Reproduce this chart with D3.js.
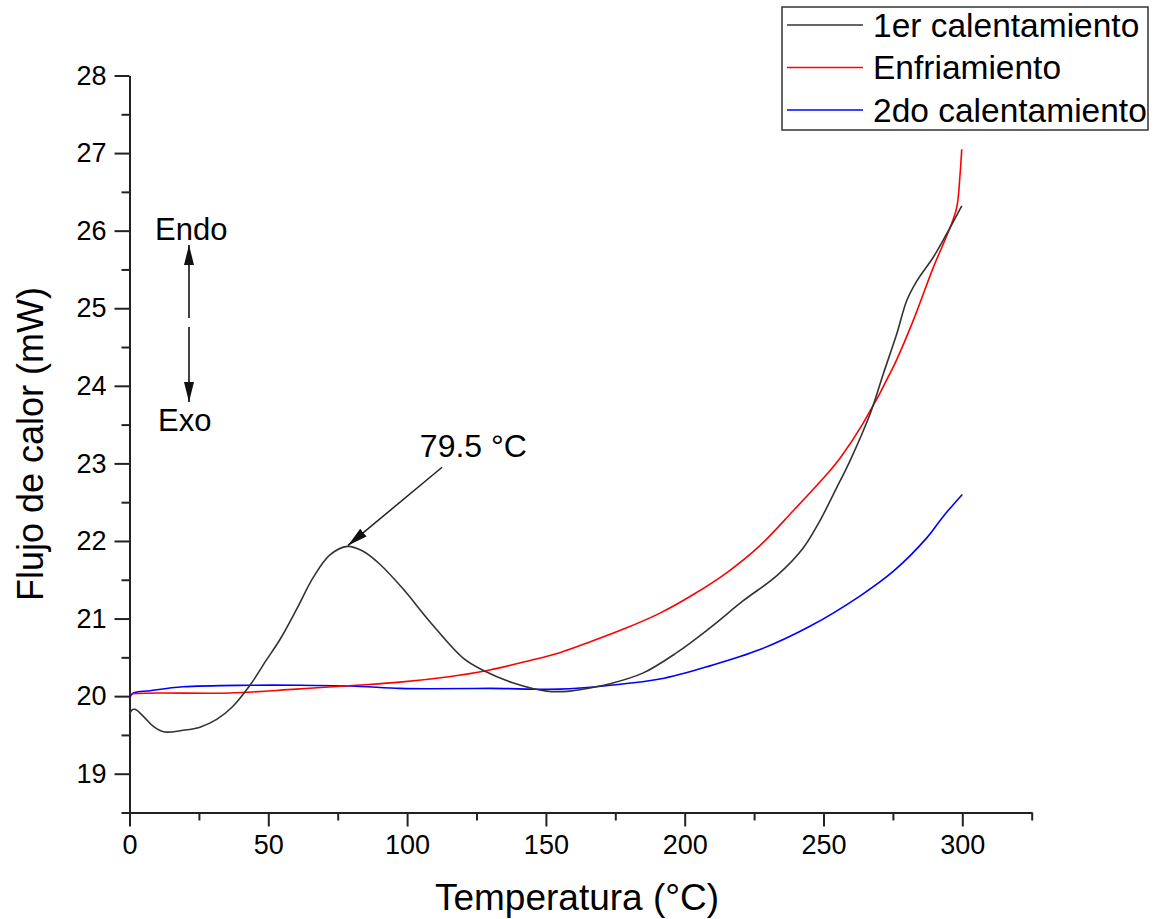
<!DOCTYPE html>
<html><head><meta charset="utf-8">
<script src="https://cdn.jsdelivr.net/npm/d3@7"></script>
<style>body{margin:0;background:#fff}svg{display:block}text{font-family:"Liberation Sans",Arial,sans-serif;fill:#000}</style>
</head><body>
<script>
// ---- data ----
const seriesNames = ["1er calentamiento", "Enfriamiento", "2do calentamiento"];
const seriesColors = ["#333333", "#ff0000", "#0000ff"];

const heat1T = [0,0.8,2,5,8.6,12.2,19.4,25.4,31.4,37,43.4,49.4,54.2,60.2,66.2,72.2,78.5,84,90.2,98.6,108.2,120.2,127.5,138.3,150.3,158.7,165,173.1,185.1,197.1,209.1,221.1,233.1,242.7,248.7,254.8,259.5,266.7,271.5,276.4,280,283.6,289.6,294.4,299.8];
const heat1V = [19.76,19.82,19.83,19.74,19.61,19.54,19.56,19.6,19.7,19.86,20.14,20.47,20.73,21.12,21.53,21.82,21.93,21.87,21.7,21.38,20.96,20.49,20.33,20.17,20.065,20.065,20.1,20.16,20.3,20.56,20.88,21.23,21.55,21.91,22.26,22.69,23.03,23.63,24.15,24.67,25.1,25.35,25.66,25.96,26.32];

const coolT = [0,10,36.2,60,81.8,97.4,115,127.5,144.3,155,166,179.1,191.1,203.1,215.1,227.1,239.1,251.2,256,264.3,275.1,282.3,289.6,295.6,298,299.2,299.8];
const coolV = [20.03,20.04,20.04,20.09,20.14,20.18,20.25,20.32,20.46,20.56,20.7,20.88,21.07,21.31,21.59,21.94,22.39,22.86,23.07,23.52,24.24,24.84,25.53,26.04,26.3,26.73,27.05];

const heat2T = [0,1.4,7.4,19.3,43.4,61.4,79.4,97.4,108,130,155,173.1,191.1,209.1,227.1,245.1,263.1,275.2,287.2,293.2,300];
const heat2V = [19.98,20.04,20.07,20.12,20.14,20.14,20.13,20.1,20.095,20.1,20.09,20.14,20.22,20.39,20.6,20.9,21.29,21.61,22.04,22.32,22.6];

const xTicks = [0,50,100,150,200,250,300];
const yTicks = [19,20,21,22,23,24,25,26,27,28];
const peakLabel = "79.5 °C";
const peakT = 79.5, peakV = 21.93;

// ---- layout ----
const W = 1158, H = 919;
const svg = d3.select("body").append("svg").attr("width", W).attr("height", H);
const x = d3.scaleLinear().domain([0, 325]).range([129.5, 1031.7]);
const y = d3.scaleLinear().domain([18.5, 28]).range([812.5, 75.5]);

const axisColor = "#222";
const xMinor = d3.range(25, 326, 50);
const yMinor = d3.range(18.5, 28, 1);

const gx = svg.append("g").attr("transform", `translate(0,${y(18.5)})`);
gx.call(d3.axisBottom(x).tickValues(xTicks).tickFormat(d3.format("d")).tickSize(14).tickSizeOuter(0).tickPadding(6));
gx.append("g").call(d3.axisBottom(x).tickValues(xMinor).tickSize(8).tickFormat("").tickSizeOuter(0));
const gy = svg.append("g").attr("transform", `translate(${x(0)},0)`);
gy.call(d3.axisLeft(y).tickValues(yTicks).tickFormat(d3.format("d")).tickSize(15).tickSizeOuter(0).tickPadding(8));
gy.append("g").call(d3.axisLeft(y).tickValues(yMinor).tickSize(8).tickFormat("").tickSizeOuter(0));
svg.selectAll(".domain").attr("stroke", axisColor).attr("stroke-width", 2);
svg.selectAll(".tick line").attr("stroke", axisColor).attr("stroke-width", 2);
svg.selectAll(".tick text").attr("font-size", 27).attr("fill", "#111").attr("font-family", "Liberation Sans, Arial, sans-serif");
gx.selectAll(".tick text").attr("dy", "0.8em");

// ---- lines ----
const line = d3.line().x(d => x(d[0])).y(d => y(d[1])).curve(d3.curveCatmullRom.alpha(0.5));
const series = [
  d3.zip(heat1T, heat1V),
  d3.zip(coolT, coolV),
  d3.zip(heat2T, heat2V)
];
[2,1,0].forEach(i => {
  svg.append("path").datum(series[i]).attr("d", line)
    .attr("fill", "none").attr("stroke", seriesColors[i]).attr("stroke-width", 1.6);
});

// ---- axis titles ----
svg.append("text").attr("x", 577).attr("y", 910).attr("text-anchor", "middle")
  .attr("font-size", 37).text("Temperatura (°C)");
svg.append("text").attr("transform", `translate(43,${y(23.25)}) rotate(-90)`).attr("text-anchor", "middle")
  .attr("font-size", 36).text("Flujo de calor (mW)");

// ---- markers ----
const defs = svg.append("defs");
defs.append("marker").attr("id", "ah2").attr("viewBox", "0 0 20 10").attr("refX", 20).attr("refY", 5)
  .attr("markerWidth", 20).attr("markerHeight", 10).attr("markerUnits", "userSpaceOnUse")
  .attr("orient", "auto")
  .append("path").attr("d", "M0,0 L20,5 L0,10 Z").attr("fill", "#111");

// Endo / Exo
svg.append("text").attr("x", 155).attr("y", 240).attr("font-size", 31).text("Endo");
svg.append("text").attr("x", 158).attr("y", 431).attr("font-size", 31).text("Exo");
svg.append("line").attr("x1", 189).attr("y1", 318).attr("x2", 189).attr("y2", 245)
  .attr("stroke", "#111").attr("stroke-width", 1.6).attr("marker-end", "url(#ah2)");
svg.append("line").attr("x1", 189).attr("y1", 327).attr("x2", 189).attr("y2", 402)
  .attr("stroke", "#111").attr("stroke-width", 1.6).attr("marker-end", "url(#ah2)");

// peak annotation
svg.append("line").attr("x1", x(112.6)).attr("y1", y(22.95)).attr("x2", x(peakT - 0.8)).attr("y2", y(peakV) - 1)
  .attr("stroke", "#222").attr("stroke-width", 1.5).attr("marker-end", "url(#ah2)");
svg.append("text").attr("x", x(104.6)).attr("y", 457).attr("font-size", 32).text(peakLabel);

// ---- legend ----
const lg = svg.append("g");
lg.append("rect").attr("x", 782).attr("y", 7).attr("width", 366).attr("height", 123)
  .attr("fill", "#fff").attr("stroke", "#333").attr("stroke-width", 1.5);
seriesNames.forEach((n, i) => {
  const ly = 25 + i * 42.5;
  lg.append("line").attr("x1", 787).attr("x2", 863).attr("y1", ly).attr("y2", ly)
    .attr("stroke", seriesColors[i]).attr("stroke-width", 1.6);
  lg.append("text").attr("x", 873).attr("y", ly + 11.5).attr("font-size", 33.5).text(n);
});
</script>
</body></html>
